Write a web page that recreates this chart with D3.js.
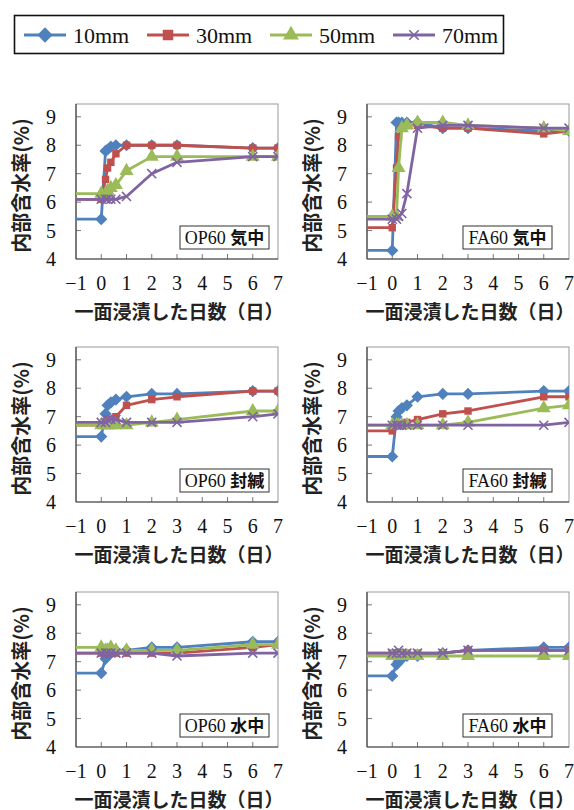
<!DOCTYPE html>
<html>
<head>
<meta charset="utf-8">
<script src="https://cdn.jsdelivr.net/npm/d3@7"></script>
<style>
  body { margin: 0; background: #fff; }
  svg { display: block; }
</style>
</head>
<body>
<svg width="574" height="810"></svg>
<script>
const svg = d3.select("svg");

const seriesNames = ["10mm", "30mm", "50mm", "70mm"];
const colors = ["#4F81BD", "#C0504D", "#9BBB59", "#8064A2"];
const days = [-1, 0, 0.17, 0.25, 0.38, 0.58, 1, 2, 3, 6, 7];
const xTicks = [-1, 0, 1, 2, 3, 4, 5, 6, 7];
const yTicks = [4, 5, 6, 7, 8, 9];

const panelLabels = [
  ["OP60", "気中"], ["FA60", "気中"],
  ["OP60", "封緘"], ["FA60", "封緘"],
  ["OP60", "水中"], ["FA60", "水中"]
];

// values per panel: [10mm, 30mm, 50mm, 70mm], one value per day
const op60Air = [
  [5.4, 5.4, 7.8, 7.85, 7.95, 8.0, 8.0, 8.0, 8.0, 7.9, 7.9],
  [6.1, 6.1, 6.8, 7.2, 7.4, 7.7, 8.0, 8.0, 8.0, 7.9, 7.9],
  [6.3, 6.3, 6.3, 6.4, 6.5, 6.6, 7.1, 7.6, 7.6, 7.6, 7.6],
  [6.1, 6.1, 6.1, 6.1, 6.1, 6.1, 6.2, 7.0, 7.4, 7.6, 7.6]
];
const fa60Air = [
  [4.3, 4.3, 8.8, 8.8, 8.8, 8.8, 8.8, 8.6, 8.6, 8.5, 8.5],
  [5.1, 5.1, 7.2, 8.3, 8.6, 8.7, 8.7, 8.6, 8.6, 8.4, 8.5],
  [5.5, 5.5, 5.5, 7.2, 8.6, 8.7, 8.8, 8.8, 8.7, 8.6, 8.5],
  [5.4, 5.4, 5.4, 5.5, 5.6, 6.3, 8.6, 8.7, 8.7, 8.6, 8.6]
];
const op60Seal = [
  [6.3, 6.3, 7.1, 7.4, 7.5, 7.6, 7.7, 7.8, 7.8, 7.9, 7.9],
  [6.7, 6.7, 6.8, 6.9, 6.9, 7.0, 7.4, 7.6, 7.7, 7.9, 7.9],
  [6.7, 6.7, 6.7, 6.7, 6.7, 6.7, 6.7, 6.8, 6.9, 7.2, 7.2],
  [6.8, 6.8, 6.8, 6.9, 6.9, 6.9, 6.8, 6.8, 6.8, 7.0, 7.1]
];
const fa60Seal = [
  [5.6, 5.6, 7.0, 7.2, 7.3, 7.4, 7.7, 7.8, 7.8, 7.9, 7.9],
  [6.5, 6.5, 6.7, 6.7, 6.7, 6.8, 6.9, 7.1, 7.2, 7.7, 7.7],
  [6.7, 6.7, 6.7, 6.7, 6.7, 6.7, 6.7, 6.7, 6.8, 7.3, 7.4],
  [6.7, 6.7, 6.7, 6.7, 6.7, 6.7, 6.7, 6.7, 6.7, 6.7, 6.8]
];
const op60Water = [
  [6.6, 6.6, 7.1, 7.3, 7.3, 7.4, 7.4, 7.5, 7.5, 7.7, 7.7],
  [7.3, 7.3, 7.3, 7.3, 7.3, 7.3, 7.3, 7.3, 7.3, 7.5, 7.6],
  [7.5, 7.5, 7.4, 7.4, 7.5, 7.4, 7.4, 7.4, 7.4, 7.6, 7.6],
  [7.3, 7.3, 7.3, 7.3, 7.3, 7.3, 7.3, 7.3, 7.2, 7.3, 7.3]
];
const fa60Water = [
  [6.5, 6.5, 6.9, 7.0, 7.1, 7.2, 7.2, 7.3, 7.4, 7.5, 7.5],
  [7.3, 7.3, 7.3, 7.3, 7.3, 7.3, 7.3, 7.3, 7.4, 7.4, 7.4],
  [7.2, 7.2, 7.2, 7.2, 7.2, 7.2, 7.2, 7.2, 7.2, 7.2, 7.2],
  [7.3, 7.3, 7.3, 7.4, 7.3, 7.3, 7.3, 7.3, 7.4, 7.4, 7.4]
];
const panelData = [op60Air, fa60Air, op60Seal, fa60Seal, op60Water, fa60Water];

const yTitle = "内部含水率(%)";
const xTitle = "一面浸漬した日数（日）";

const serif = "'Liberation Serif', 'Times New Roman', serif";
const gothic = "'Noto Sans CJK JP', sans-serif";

// marker shapes per series
const symbols = [
  d3.symbol().type(d3.symbolDiamond2).size(95),
  d3.symbol().type(d3.symbolSquare).size(55),
  d3.symbol().type(d3.symbolTriangle).size(85),
  d3.symbol().type(d3.symbolX).size(55)
];

// plot area of each panel
const plotW = 202, plotH = 155;
const colX = [76, 367];
const rowY = [104, 347, 592];

const legend = svg.append("g");
legend.append("rect")
  .attr("x", 14.5).attr("y", 15.5).attr("width", 489).attr("height", 38)
  .attr("fill", "#fff").attr("stroke", "#111").attr("stroke-width", 1.6);
seriesNames.forEach((name, i) => {
  const x0 = 24 + i * 123;
  const g = legend.append("g");
  g.append("line").attr("x1", x0).attr("x2", x0 + 42).attr("y1", 35).attr("y2", 35)
    .attr("stroke", colors[i]).attr("stroke-width", 2.8);
  g.append("path").attr("d", symbols[i].size(i === 0 ? 150 : i === 3 ? 60 : 110)())
    .attr("transform", `translate(${x0 + 21},35)`)
    .attr("fill", i === 3 ? "none" : colors[i])
    .attr("stroke", colors[i]).attr("stroke-width", i === 3 ? 1.6 : 0);
  g.append("text").attr("x", x0 + 49).attr("y", 42.5)
    .attr("font-family", serif).attr("font-size", 22).attr("fill", "#111")
    .text(name);
});
symbols[0].size(95); symbols[1].size(55); symbols[2].size(85); symbols[3].size(55);

panelData.forEach((data, p) => {
  const left = colX[p % 2], top = rowY[Math.floor(p / 2)];
  const g = svg.append("g").attr("transform", `translate(${left},${top})`);

  const x = d3.scaleLinear().domain([-1, 7]).range([0, plotW]);
  const y = d3.scaleLinear().domain([4, 9.45]).range([plotH, 0]);

  const clipId = "clip" + p;
  g.append("clipPath").attr("id", clipId)
    .append("rect").attr("width", plotW).attr("height", plotH);

  g.append("rect").attr("width", plotW).attr("height", plotH)
    .attr("fill", "none").attr("stroke", "#999").attr("stroke-width", 1);

  // inner ticks
  g.append("g").selectAll("line").data(xTicks.filter(t => t > -1 && t < 7)).enter()
    .append("line")
    .attr("x1", d => x(d)).attr("x2", d => x(d))
    .attr("y1", plotH).attr("y2", plotH - 5)
    .attr("stroke", "#777").attr("stroke-width", 1);
  g.append("g").selectAll("line").data(yTicks.filter(t => t > 4)).enter()
    .append("line")
    .attr("x1", 0).attr("x2", 5)
    .attr("y1", d => y(d)).attr("y2", d => y(d))
    .attr("stroke", "#777").attr("stroke-width", 1);

  g.append("line").attr("x1", 0).attr("x2", 0).attr("y1", 0).attr("y2", plotH)
    .attr("stroke", "#444").attr("stroke-width", 1.2);
  g.append("line").attr("x1", 0).attr("x2", plotW).attr("y1", plotH).attr("y2", plotH)
    .attr("stroke", "#444").attr("stroke-width", 1.2);

  g.append("g").selectAll("text").data(xTicks).enter()
    .append("text")
    .attr("x", d => x(d)).attr("y", plotH + 31)
    .attr("text-anchor", "middle")
    .attr("font-family", serif).attr("font-size", 20).attr("fill", "#111")
    .text(d => d < 0 ? "−" + Math.abs(d) : d);
  g.append("g").selectAll("text").data(yTicks).enter()
    .append("text")
    .attr("x", -20).attr("y", d => y(d) + 7)
    .attr("text-anchor", "end")
    .attr("font-family", serif).attr("font-size", 20).attr("fill", "#111")
    .text(d => d);

  g.append("text")
    .attr("x", plotW / 2 + 2).attr("y", plotH + 60)
    .attr("text-anchor", "middle")
    .attr("font-family", gothic).attr("font-size", 19).attr("font-weight", "bold")
    .attr("fill", "#222")
    .text(xTitle);
  g.append("text")
    .attr("transform", `translate(-47,${plotH / 2 + 4}) rotate(-90)`)
    .attr("text-anchor", "middle")
    .attr("font-family", gothic).attr("font-size", 20).attr("font-weight", "bold")
    .attr("fill", "#222")
    .text(yTitle);

  const line = d3.line().x((d, i) => x(days[i])).y(d => y(d));

  data.forEach((vals, s) => {
    g.append("path").datum(vals)
      .attr("d", line)
      .attr("fill", "none").attr("stroke", colors[s]).attr("stroke-width", 2.8)
      .attr("stroke-linejoin", "round");
    g.append("g").attr("clip-path", `url(#${clipId})`)
      .selectAll("path").data(vals.slice(1)).enter()
      .append("path")
      .attr("d", symbols[s]())
      .attr("transform", (d, i) => `translate(${x(days[i + 1])},${y(d)})`)
      .attr("fill", s === 3 ? "none" : colors[s])
      .attr("stroke", colors[s]).attr("stroke-width", s === 3 ? 1.6 : 0);
  });

  // panel label box
  const lb = panelLabels[p];
  const bx = p % 2 === 0 ? plotW - 98 : plotW - 106;
  const by = plotH - 33;
  const label = g.append("g").attr("transform", `translate(${bx},${by})`);
  label.append("rect").attr("width", 89).attr("height", 23)
    .attr("fill", "#fff").attr("stroke", "#333").attr("stroke-width", 1);
  const t = label.append("text").attr("x", 44.5).attr("y", 17.5)
    .attr("text-anchor", "middle").attr("fill", "#111");
  t.append("tspan").attr("font-family", serif).attr("font-size", 18).text(lb[0] + " ");
  t.append("tspan").attr("font-family", gothic).attr("font-size", 17).attr("font-weight", "bold").text(lb[1]);
});
</script>
</body>
</html>
